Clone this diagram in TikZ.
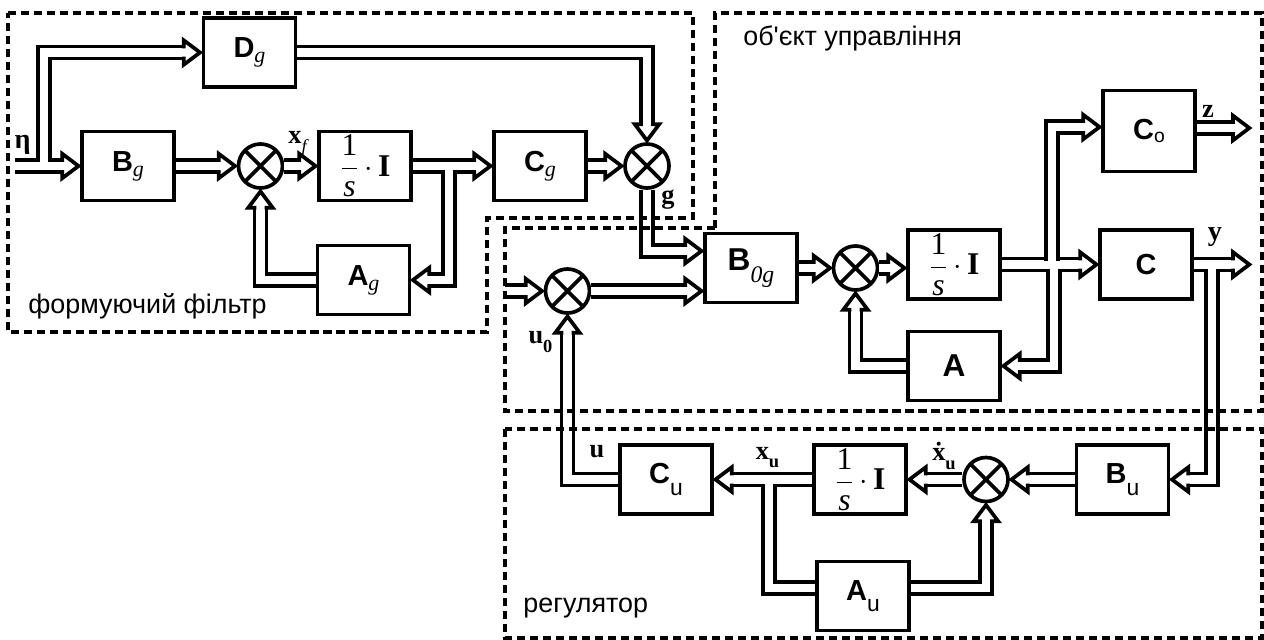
\documentclass[tikz,border=0pt]{standalone}
\usepackage{fontspec}
\setmainfont{Liberation Sans}
\newfontfamily\serif{Liberation Serif}
\usetikzlibrary{arrows.meta}

% hollow head for the double (vector) lines
\pgfdeclarearrow{
  name = Pipe,
  parameters = {\the\pgfarrowlength,\the\pgfarrowwidth},
  setup code = {
    \pgfarrowssettipend{1.1\pgfarrowlength}
    \pgfarrowssetlineend{0pt}
    \pgfarrowssetbackend{0pt}
    \pgfarrowshullpoint{\pgfarrowlength}{0pt}
    \pgfarrowsupperhullpoint{0pt}{.5\pgfarrowwidth}
    \pgfarrowssavethe\pgfarrowlength
    \pgfarrowssavethe\pgfarrowwidth
  },
  drawing code = {
    \pgfsetlinewidth{2.1pt}
    \pgfsetmiterjoin
    \pgfsetbuttcap
    \pgfpathmoveto{\pgfqpoint{0pt}{2.35pt}}
    \pgfpathlineto{\pgfqpoint{0pt}{.5\pgfarrowwidth}}
    \pgfpathlineto{\pgfqpoint{\pgfarrowlength}{0pt}}
    \pgfpathlineto{\pgfqpoint{0pt}{-.5\pgfarrowwidth}}
    \pgfpathlineto{\pgfqpoint{0pt}{-2.35pt}}
    \pgfusepathqstroke
  },
  defaults = {length = 9.3pt, width = 14pt}
}

\tikzset{
  blok/.style={draw, line width=2.1pt, minimum width=1.84cm, minimum height=1.38cm,
    inner sep=0pt, font=\fontsize{16.5}{18}\selectfont\bfseries},
  summa/.style={draw, circle, line width=2.1pt, minimum size=0.88cm, inner sep=0pt,
    path picture={\draw[line width=2.1pt]
      (path picture bounding box.north west) -- (path picture bounding box.south east)
      (path picture bounding box.north east) -- (path picture bounding box.south west);}},
  vec/.style={double, double distance=4.7pt, line width=2.1pt, line join=miter, -Pipe},
  vecplain/.style={double, double distance=4.7pt, line width=2.1pt, line join=miter},
  zona/.style={line width=2pt, dash pattern=on 4.6pt off 2.8pt},
  sig/.style={inner sep=0pt, font=\serif\bfseries\fontsize{15}{15}\selectfont},
  zonatxt/.style={inner sep=0pt, anchor=base west, font=\fontsize{15.3}{16}\selectfont},
}

\newcommand{\gsub}[1]{\raisebox{-2.8pt}{\serif\mdseries\itshape\fontsize{12.5}{13}\selectfont #1}}
\newcommand{\usub}[1]{\raisebox{-6.6pt}{\mdseries\fontsize{13}{13}\selectfont #1}}
\newcommand{\lsub}[1]{\raisebox{-4.8pt}{\fontsize{10.5}{11}\selectfont #1}}
\newcommand{\integr}{{\serif\mdseries\fontsize{18}{18}\selectfont
  $\displaystyle\frac{\mbox{1}\rule[-4.2pt]{0pt}{4.2pt}}{\rule{0pt}{14.4pt}\mbox{\itshape s}}\,{\cdot}\,\mbox{\bfseries I}$}}

\begin{document}
\begin{tikzpicture}[x=0.2cm, y=-0.2cm]
  \useasboundingbox (0,0) rectangle (126.4,64);
  % формуючий фільтр
  \node[blok] (Dg) at (24.95,5.25) {D\gsub{g}};
  \node[blok] (Bg) at (12.8,16.6) {B\gsub{g}};
  \node[summa] (s1) at (26.05,16.6) {};
  \node[blok] (int1) at (36.5,16.6) {\integr};
  \node[blok] (Cg) at (54,16.6) {C\gsub{g}};
  \node[summa] (s2) at (64.7,16.6) {};
  \node[blok] (Ag) at (36.35,28) {A\gsub{g}};
  % об'єкт управління
  \node[blok] (B0g) at (75.1,26.8) {\fontsize{18}{18}\selectfont B\raisebox{-6.5pt}{\serif\mdseries\itshape\fontsize{13.5}{14}\selectfont 0g}};
  \node[summa] (s3) at (56.75,29.1) {};
  \node[summa] (s5) at (85.55,26.8) {};
  \node[blok] (int2) at (95.4,26.45) {\integr};
  \node[blok, minimum height=1.62cm] (Co) at (114.9,13.1) {C\raisebox{-1.5pt}{\mdseries\fontsize{11}{11}\selectfont o}};
  \node[blok] (Cc) at (114.6,26.45) {C};
  \node[blok] (A) at (95.4,36.6) {\fontsize{18}{18}\selectfont A};
  % регулятор
  \node[blok] (Cu) at (66.6,47.95) {C\usub{u}};
  \node[blok] (int3) at (86,47.95) {\integr};
  \node[summa] (s4) at (98.6,47.95) {};
  \node[blok] (Bu) at (112.25,47.95) {B\usub{u}};
  \node[blok] (Au) at (86.3,59.6) {A\usub{u}};

  % free ends and branch points
  \coordinate (inEta) at (1.5,16.6);
  \coordinate (jEta) at (4.4,16.2);
  \coordinate (jInt1) at (44.9,17);
  \coordinate (inU) at (50.5,29.1);
  \coordinate (jUp) at (105.2,26.05);
  \coordinate (jDown) at (105.4,26.85);
  \coordinate (outZ) at (125.1,12.8);
  \coordinate (outY) at (125.1,26.45);
  \coordinate (jY) at (121.2,26.85);
  \coordinate (jXu) at (76.9,48.35);

  \draw[vec] (inEta) -- (Bg.west);
  \draw[vec] (jEta) |- (Dg.west);
  \draw[vec] (Bg) -- (s1);
  \draw[vec] (s1) -- (int1);
  \draw[vec] (int1) -- (Cg);
  \draw[vec] (jInt1) |- (Ag.east);
  \draw[vec] (Ag.west) -| (s1.south);
  \draw[vec] (Cg) -- (s2);
  \draw[vec] (Dg.east) -| (s2.north);
  \draw[vec] (s2.south) |- ([yshift=0.34cm]B0g.west);
  \draw[vec] (inU) -- (s3.west);
  \draw[vec] (s3.east) -- (s3.east -| B0g.west);
  \draw[vec] (B0g) -- (s5);
  \draw[vec] (s5.east) -- (s5.east -| int2.west);
  \draw[vec] (int2) -- (Cc);
  \draw[vec] (jUp) |- ([yshift=0.08cm]Co.west);
  \draw[vec] (jDown) |- (A.east);
  \draw[vec] (A.west) -| (s5.south);
  \draw[vec] (outZ -| Co.east) -- (outZ);
  \draw[vec] (Cc.east) -- (outY);
  \draw[vec] (jY) |- (Bu.east);
  \draw[vec] (Bu) -- (s4);
  \draw[vec] (s4) -- (int3);
  \draw[vec] (int3) -- (Cu);
  \draw[vecplain] (jXu) |- ([yshift=0.16cm]Au.west);
  \draw[vec] ([yshift=0.16cm]Au.east) -| (s4.south);
  \draw[vec] (Cu.west) -| (s3.south);

  % signals
  \node[sig, font=\serif\bfseries\fontsize{16}{16}\selectfont] (lEta) at (2.25,14.5) {η};
  \node[sig] (lXf) at (29.75,14.4) {x\raisebox{-5.5pt}{\mdseries\itshape\fontsize{10.5}{11}\selectfont f}};
  \node[sig] (lG) at (66.8,20) {g};
  \node[sig] (lZ) at (120.8,11.1) {z};
  \node[sig, font=\serif\bfseries\fontsize{16}{16}\selectfont] (lY) at (121.5,23.7) {y};
  \node[sig] (lU0) at (54.05,34.2) {u\lsub{0}};
  \node[sig] (lU) at (59.7,45.2) {u};
  \node[sig] (lXu) at (76.75,45.75) {x\lsub{u}};
  \node[sig] (lXdu) at (94.4,45.6) {\.{x}\lsub{u}};

  % zones
  \draw[zona] (0.8,1.3) -- (69.3,1.3) -- (69.3,21.8) -- (48.7,21.8) -- (48.7,33.2) -- (0.8,33.2) -- cycle;
  \draw[zona] (71.5,22.8) -- (71.5,1.3) -- (126.2,1.3) -- (126.2,41.1) -- (50.5,41.1) -- (50.5,22.8) -- cycle;
  \draw[zona] (50.5,42.9) rectangle (126.2,63.8);
  \node[zonatxt] (tF) at (2.8,31.3) {формуючий фільтр};
  \node[zonatxt] (tO) at (74.3,4.5) {об\textquotesingle єкт управління};
  \node[zonatxt] (tR) at (52.3,61.2) {регулятор};
\end{tikzpicture}
\end{document}
